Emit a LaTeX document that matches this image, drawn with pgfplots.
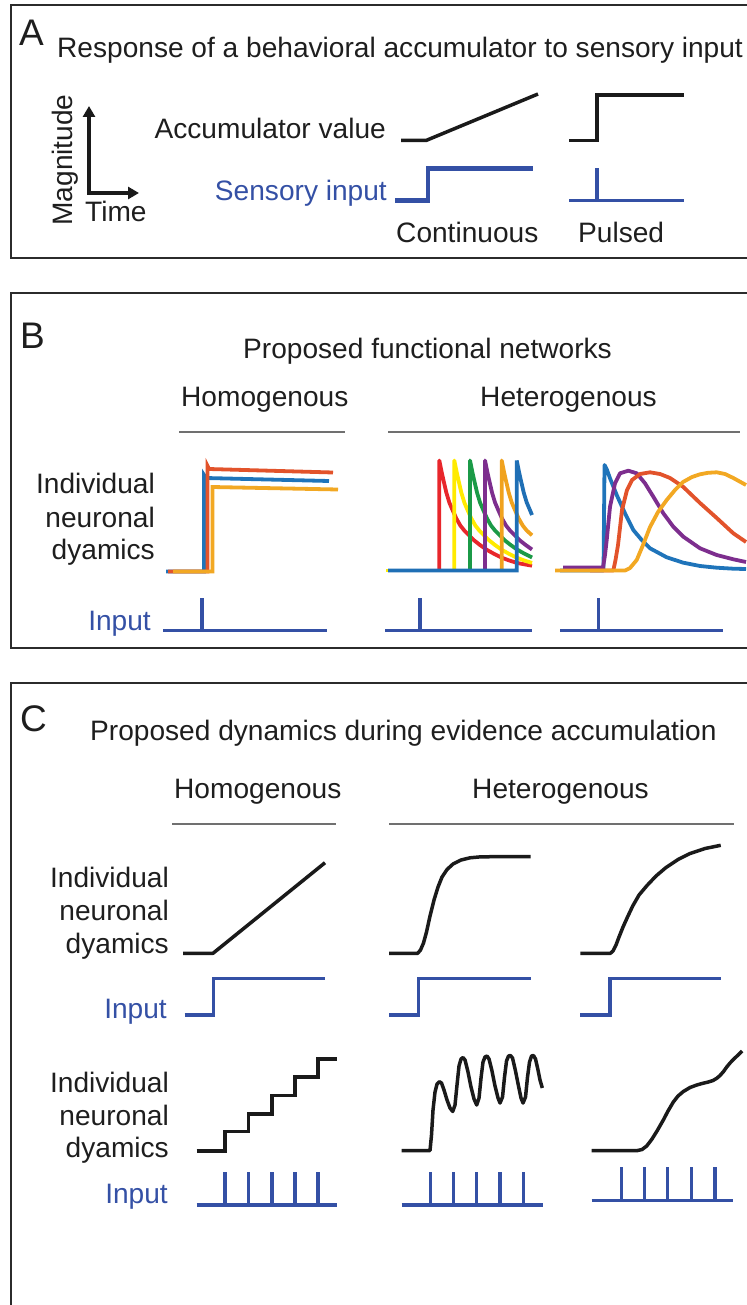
\documentclass[border=0pt]{standalone}
\usepackage{pgfplots}
\pgfplotsset{compat=1.18}
\usetikzlibrary{arrows.meta}
\usepackage{fontspec}
\setmainfont{Liberation Sans}
\definecolor{inblue}{HTML}{3450A5}
\definecolor{lineblack}{HTML}{1A1A1A}
\definecolor{txt}{HTML}{1E1E1E}
\definecolor{boxc}{HTML}{2B2B2B}
\definecolor{grayl}{HTML}{707070}
\definecolor{hred}{HTML}{E2532B}
\definecolor{hblue}{HTML}{1F74BA}
\definecolor{hgold}{HTML}{F2A823}
\definecolor{r1}{HTML}{E8262B}
\definecolor{y1}{HTML}{FFEA00}
\definecolor{g1}{HTML}{1B9A47}
\definecolor{p1}{HTML}{7D2E8E}
\definecolor{o1}{HTML}{F0A21E}
\definecolor{b1}{HTML}{1F6FB5}
\newcommand\fs{\fontsize{28.1bp}{30bp}\selectfont}
\newcommand\fl{\fontsize{37bp}{40bp}\selectfont}
\tikzset{
  bx/.style={color=boxc, line width=2.5bp, line join=miter},
  blk/.style={color=lineblack, line width=3.5bp},
  inp/.style={color=inblue, line width=3.4bp},
  gl/.style={color=grayl, line width=2bp},
  cv/.style={line width=3.8bp},
  T/.style={text=txt, inner sep=0pt, font=\fs},
  BL/.style={text=inblue, inner sep=0pt, font=\fs},
  L/.style={text=txt, inner sep=0pt, font=\fl}}
\begin{document}
\begin{tikzpicture}
\begin{axis}[name=ax, scale only axis, width=746bp, height=1305bp,
  xmin=0, xmax=746, ymin=0, ymax=1305, y dir=reverse, hide axis, clip=false,
  every axis plot/.append style={no marks, line join=round, line cap=butt}]
\addplot[draw=none] coordinates {(0,0) (746,1305)};
% ---------------- boxes
\addplot[bx] coordinates {(790,5) (11,5) (11,258) (790,258)};
\addplot[bx] coordinates {(790,293) (11,293) (11,648) (790,648)};
\addplot[bx] coordinates {(790,683) (11,683) (11,1330)};
% ---------------- panel A
\node[L, anchor=base west] at (axis cs:19,46) {A};
\node[T, anchor=base west] at (axis cs:57,58) {Response of a behavioral accumulator to sensory input};
\node[T, rotate=90, anchor=base] at (axis cs:72,160) {Magnitude};
\node[T, anchor=base west] at (axis cs:85,222) {Time};
\node[T, anchor=base east] at (axis cs:386,139) {Accumulator value};
\node[BL, anchor=base east] at (axis cs:387,201) {Sensory input};
\node[T, anchor=base west] at (axis cs:396,243) {Continuous};
\node[T, anchor=base west] at (axis cs:578,243) {Pulsed};
\addplot[color=lineblack, line width=3.4bp, line join=miter,
  {Triangle[length=11bp,width=12bp]}-{Triangle[length=11bp,width=12bp]}]
  coordinates {(89,106) (89,193) (139,193)};
\addplot[blk] coordinates {(401,140.5) (426,140.5) (538,94)};
\addplot[blk, line join=miter] coordinates {(569,140.5) (597,140.5) (597,95) (684,95)};
\addplot[inp, line width=4.4bp, line join=miter] coordinates {(395,200.5) (428,200.5) (428,168.5) (533,168.5)};
\addplot[inp] coordinates {(569,200.5) (684,200.5)};
\addplot[inp] coordinates {(597,200.5) (597,168)};
% ---------------- panel B
\node[L, anchor=base west] at (axis cs:20,348) {B};
\node[T, anchor=base west] at (axis cs:243,358) {Proposed functional networks};
\node[T, anchor=base west] at (axis cs:181,406) {Homogenous};
\node[T, anchor=base west] at (axis cs:480,406) {Heterogenous};
\addplot[gl] coordinates {(179,432) (345,432)};
\addplot[gl] coordinates {(388,432) (740,432)};
\node[T, anchor=base east] at (axis cs:155,493) {Individual};
\node[T, anchor=base east] at (axis cs:155,527) {neuronal};
\node[T, anchor=base east] at (axis cs:155,559) {dyamics};
\node[BL, anchor=base east] at (axis cs:151,630) {Input};
% homogeneous
\addplot[cv, color=hblue, line join=miter] coordinates {(166,571.5) (204,571.5) (204,475) (206,478) (329,481)};
\addplot[cv, color=hred, line join=miter] coordinates {(168,571.5) (207.5,571.5) (207.5,466) (209,469) (333,472.5)};
\addplot[cv, color=hgold, line join=miter] coordinates {(173,571.5) (212.5,571.5) (212.5,487) (338,489.5)};
% heterogeneous 1
\addplot[cv, color=r1] coordinates {(439.3,570.5) (439.3,460.5) (441.3,470.5) (443.3,479.5) (446.3,492.5) (449.3,502.5) (452.3,509.5) (456.3,518.5) (460.3,525.5) (464.3,530.5) (469.3,535.5) (474.3,540.5) (479.3,544.5) (486.3,549.5) (494.3,554) (501.3,557.5) (509.3,560.5) (517.3,563) (525.3,564.5) (532,565.7)};
\addplot[cv, color=y1] coordinates {(454.3,570.5) (454.3,460.5) (456.3,470.5) (458.3,479.5) (461.3,492.5) (464.3,502.5) (467.3,509.5) (471.3,518.5) (475.3,525.5) (479.3,530.5) (484.3,535.5) (489.3,540.5) (494.3,544.5) (501.3,549.5) (509.3,554) (516.3,557.5) (524.3,560.5) (532,562.9)};
\addplot[cv, color=g1] coordinates {(470,570.5) (470,460.5) (472,470.5) (474,479.5) (477,492.5) (480,502.5) (483,509.5) (487,518.5) (491,525.5) (495,530.5) (500,535.5) (505,540.5) (510,544.5) (517,549.5) (525,554) (532,557.5)};
\addplot[cv, color=p1] coordinates {(485,570.5) (485,460.5) (487,470.5) (489,479.5) (492,492.5) (495,502.5) (498,509.5) (502,518.5) (506,525.5) (510,530.5) (515,535.5) (520,540.5) (525,544.5) (532,549.5)};
\addplot[cv, color=o1] coordinates {(501.7,570.5) (501.7,460.5) (503.7,470.5) (505.7,479.5) (508.7,492.5) (511.7,502.5) (514.7,509.5) (518.7,518.5) (522.7,525.5) (526.7,530.5) (532,535.3)};
\addplot[cv, color=y1] coordinates {(386,570.5) (390,570.5)};
\addplot[cv, color=b1, line join=miter] coordinates {(388,570.5) (516.7,570.5) (516.7,460.5) (518.7,470.5) (520.7,479.5) (523.7,492.5) (526.7,502.5) (529.7,509.5) (532,515)};
% heterogeneous 2
\addplot[cv, color=hblue] coordinates {(560,570.5) (603.5,570.5) (604.5,465) (607,470) (610,478.3) (616.7,495) (625,513.3) (633.3,530) (641.7,540) (650,548.3) (666.7,557.3) (683.3,562.7) (700,566) (716.7,567.7) (733.3,568.7) (746,569)};
\addplot[cv, color=p1] coordinates {(563,567.5) (603,567.5) (605,555) (606.7,540) (610,506.7) (615,483.3) (620,473.3) (628.3,470.7) (636.7,473.3) (645,483.3) (653.3,496.7) (663.3,513.3) (673.3,526.7) (683.3,536.7) (700,548.3) (716.7,555) (733.3,559.3) (746,562)};
\addplot[cv, color=hred] coordinates {(590,570.5) (613.3,570.5) (615.5,560) (618,545) (622,510) (627,490) (632,480) (640,474) (650,472.3) (660,474) (670,478) (683,486.7) (700,503) (716.7,518) (733.3,533.3) (746,542)};
\addplot[cv, color=hgold] coordinates {(555,570.5) (625,570.5) (630,568) (636.7,560) (643,545) (650,527) (658,512) (666.7,500) (675,490) (683,482) (692,477) (700,474.3) (708,472.8) (716.7,472.3) (725,474) (733.3,478) (746,485)};
% inputs B
\addplot[inp, line width=3.6bp] coordinates {(163,630.5) (327,630.5)};
\addplot[inp, line width=3.6bp] coordinates {(201.7,630.5) (201.7,597.7)};
\addplot[inp, line width=3.6bp] coordinates {(385,630.5) (532,630.5)};
\addplot[inp, line width=3.6bp] coordinates {(420,630.5) (420,597.7)};
\addplot[inp, line width=3.6bp] coordinates {(560,630.5) (723,630.5)};
\addplot[inp, line width=3.6bp] coordinates {(598.3,630.5) (598.3,597.7)};
% ---------------- panel C
\node[L, anchor=base west] at (axis cs:20,731) {C};
\node[T, anchor=base west] at (axis cs:90,740) {Proposed dynamics during evidence accumulation};
\node[T, anchor=base west] at (axis cs:174,798) {Homogenous};
\node[T, anchor=base west] at (axis cs:472,798) {Heterogenous};
\addplot[gl] coordinates {(172,824) (336,824)};
\addplot[gl] coordinates {(389,824) (734,824)};
\node[T, anchor=base east] at (axis cs:169,887) {Individual};
\node[T, anchor=base east] at (axis cs:169,920) {neuronal};
\node[T, anchor=base east] at (axis cs:169,953) {dyamics};
\node[BL, anchor=base east] at (axis cs:167,1018) {Input};
\node[T, anchor=base east] at (axis cs:169,1092) {Individual};
\node[T, anchor=base east] at (axis cs:169,1125) {neuronal};
\node[T, anchor=base east] at (axis cs:169,1157) {dyamics};
\node[BL, anchor=base east] at (axis cs:168,1203) {Input};
% row 1
\addplot[blk] coordinates {(183,953.3) (213,953.3) (325,862.7)};
\addplot[blk] coordinates {(389,953.3) (417.7,953.3) (420.5,950) (423.5,943) (426.5,932) (430,916) (434,900) (438,887) (442,877) (447,869.5) (453,864) (461,860) (470,857.8) (481,856.8) (495,856.7) (530.5,856.7)};
\addplot[blk] coordinates {(580.4,953.3) (610.4,953.3) (613,951) (616,945) (619,937) (623,927) (627.5,917) (632.7,906) (639,895) (647,885.5) (656,876) (666,867.5) (678,859.5) (690,853.5) (705,848.5) (720.7,845.3)};
\addplot[inp, line join=miter] coordinates {(184.6,1015) (213.5,1015) (213.5,978.3) (325,978.3)};
\addplot[inp, line join=miter] coordinates {(389,1015) (418.5,1015) (418.5,978.3) (530.5,978.3)};
\addplot[inp, line join=miter] coordinates {(580.4,1015) (610,1015) (610,978.3) (720.7,978.3)};
% row 2
\addplot[blk, line join=miter] coordinates {(196.5,1151) (225,1151) (225,1131.7) (248.3,1131.7) (248.3,1114) (272,1114) (272,1095.7) (295,1095.7) (295,1077) (317.8,1077) (317.8,1059) (336.8,1059)};
\addplot[blk] coordinates {(401.7,1150.5) (430,1150.5) (431.5,1135) (433,1110) (435,1092) (437,1084) (439.3,1081.7) (441.5,1083) (444,1090) (447,1100) (450,1108) (452.7,1111.5) (455,1105) (457,1085) (459,1066) (461,1059) (463,1057.5) (465,1060) (468,1072) (471,1087) (474,1099) (476.7,1105) (479,1098) (481,1078) (483,1062) (485,1057) (487,1056) (489,1059) (492,1071) (495,1086) (498,1098) (500,1103) (502.5,1097) (504.5,1077) (506.5,1061) (508.5,1056) (510.5,1055.5) (512.5,1058) (515.5,1071) (518.5,1086) (521,1098) (523,1103) (525.5,1097) (527.5,1077) (529.5,1062) (531.5,1056) (533.5,1055.5) (535.5,1059) (538,1070) (540,1080) (542.3,1088)};
\addplot[blk] coordinates {(591.7,1150.7) (636.7,1150.7) (642,1149.5) (646.7,1146) (652,1139) (657,1131) (663.3,1120) (668,1111) (673.3,1102) (678,1096) (683.3,1091.5) (690,1087.5) (696.7,1085) (702,1083.5) (708.3,1082) (713,1080.5) (716.7,1078.3) (720,1075.5) (723.5,1071.5) (726.7,1067) (730,1063) (733.3,1059.5) (737,1056) (742,1051)};
% inputs row 2
\addplot[inp] coordinates {(196.5,1205) (336.8,1205)};
\addplot[inp] coordinates {(225,1205) (225,1171.7)};
\addplot[inp] coordinates {(248.3,1205) (248.3,1171.7)};
\addplot[inp] coordinates {(272,1205) (272,1171.7)};
\addplot[inp] coordinates {(295,1205) (295,1171.7)};
\addplot[inp] coordinates {(317.8,1205) (317.8,1171.7)};
\addplot[inp] coordinates {(401.7,1205) (542.7,1205)};
\addplot[inp] coordinates {(430.7,1205) (430.7,1171.7)};
\addplot[inp] coordinates {(453.3,1205) (453.3,1171.7)};
\addplot[inp] coordinates {(476.7,1205) (476.7,1171.7)};
\addplot[inp] coordinates {(500,1205) (500,1171.7)};
\addplot[inp] coordinates {(523.3,1205) (523.3,1171.7)};
\addplot[inp] coordinates {(591.7,1200.7) (733.3,1200.7)};
\addplot[inp] coordinates {(621.7,1200.7) (621.7,1166.7)};
\addplot[inp] coordinates {(644.3,1200.7) (644.3,1166.7)};
\addplot[inp] coordinates {(667.3,1200.7) (667.3,1166.7)};
\addplot[inp] coordinates {(691.7,1200.7) (691.7,1166.7)};
\addplot[inp] coordinates {(715,1200.7) (715,1166.7)};
\end{axis}
\pgfresetboundingbox
\useasboundingbox (ax.south west) rectangle (ax.north east);
\end{tikzpicture}
\end{document}
